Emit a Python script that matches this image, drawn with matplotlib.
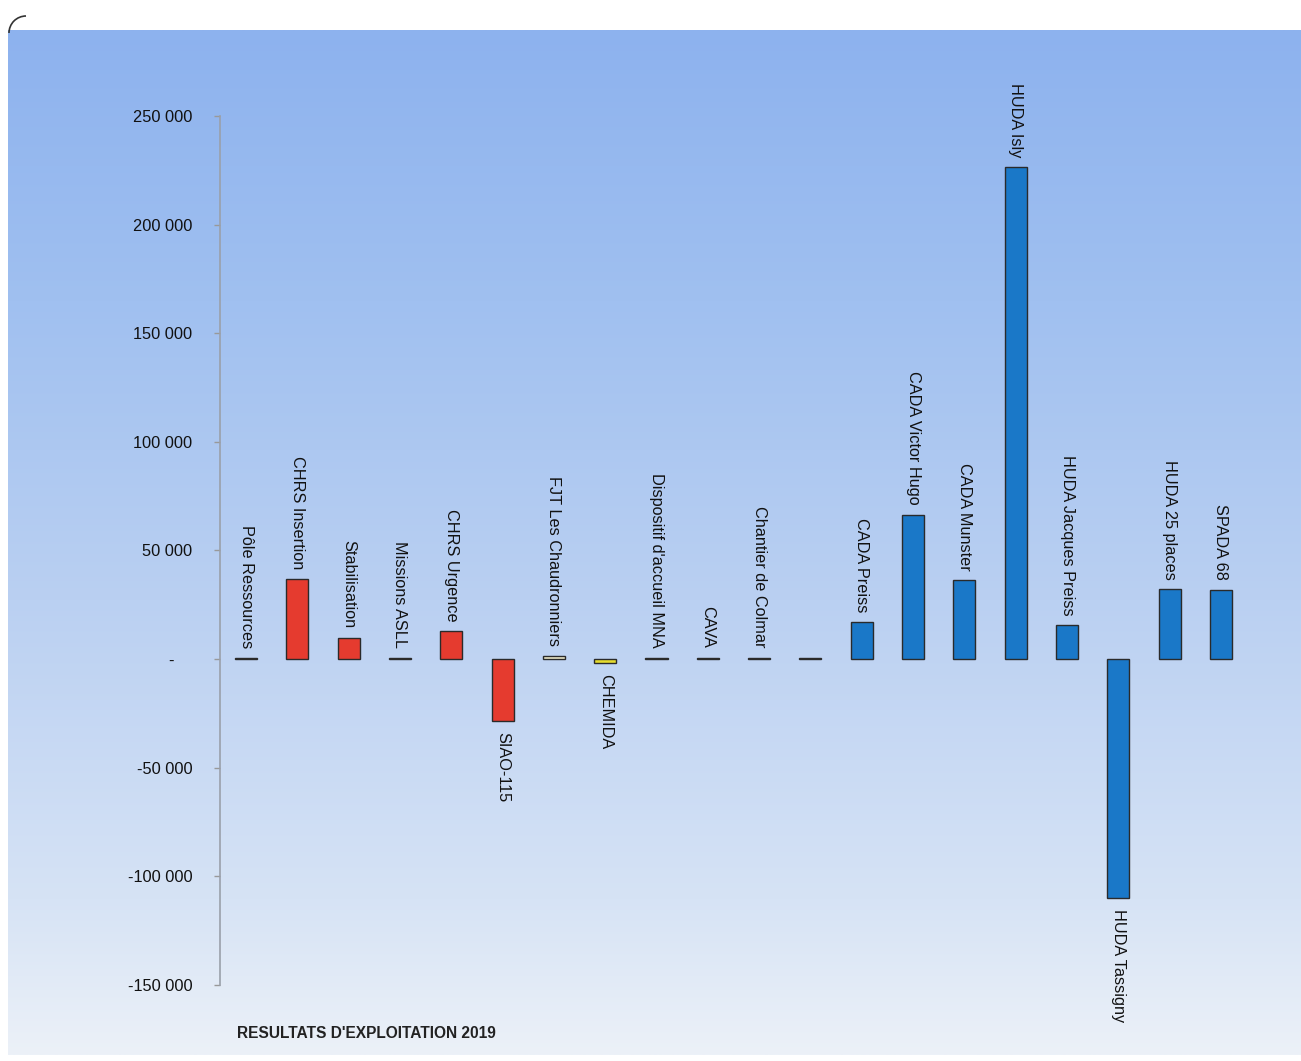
import matplotlib
matplotlib.use("Agg")
import matplotlib.pyplot as plt
import matplotlib.ticker as ticker
from matplotlib.patches import Arc
import numpy as np

plt.rcParams["font.family"] = ["Liberation Sans", "DejaVu Sans"]

# Data
labels = [
    "Pôle Ressources", "CHRS Insertion", "Stabilisation", "Missions ASLL",
    "CHRS Urgence", "SIAO-115", "FJT Les Chaudronniers", "CHEMIDA",
    "Dispositif d'accueil MNA", "CAVA", "Chantier de Colmar", "",
    "CADA Preiss", "CADA Victor Hugo", "CADA Munster", "HUDA Isly",
    "HUDA Jacques Preiss", "HUDA Tassigny", "HUDA 25 places", "SPADA 68",
]
values = [
    700, 36800, 9700, 600,
    12900, -28500, 1600, -1700,
    700, 700, 700, 700,
    17000, 66500, 36300, 226300,
    15600, -110000, 32200, 31800,
]
colors = [
    "#222222", "#e53b2f", "#e53b2f", "#444444",
    "#e53b2f", "#e53b2f", "#efeccb", "#e6dc2e",
    "#222222", "#222222", "#222222", "#222222",
    "#1a78c8", "#1a78c8", "#1a78c8", "#1a78c8",
    "#1a78c8", "#1a78c8", "#1a78c8", "#1a78c8",
]
yticks = [-150000, -100000, -50000, 0, 50000, 100000, 150000, 200000, 250000]

W, H = 1301, 1061
fig = plt.figure(figsize=(W / 100, H / 100), dpi=100)

# scanned page background: white margin, blue-to-white gradient panel
bg = fig.add_axes([0, 0, 1, 1], zorder=0)
bg.set_xlim(0, W)
bg.set_ylim(H, 0)
bg.axis("off")
stops_y = np.array([30, 300, 600, 900, 1055])
stops_c = np.array([
    [141, 178, 238],
    [160, 192, 240],
    [186, 208, 242],
    [214, 227, 245],
    [236, 241, 248],
]) / 255.0
yy = np.linspace(30, 1055, 400)
grad = np.stack([np.interp(yy, stops_y, stops_c[:, k]) for k in range(3)], axis=-1)
grad = np.repeat(grad[:, None, :], 2, axis=1)
bg.imshow(grad, extent=(8, W, 1055, 30), aspect="auto", interpolation="bilinear")
bg.add_patch(Arc((26, 33), 34, 34, theta1=180, theta2=270, color="#333333", lw=1.2))

ax = fig.add_axes([220 / W, 1 - 985 / H, 1 - 220 / W, (985 - 116) / H], zorder=1)
ax.patch.set_visible(False)

x = np.arange(len(values))
ax.bar(x, values, width=0.43, color=colors, edgecolor="#2a2a2a", linewidth=1.0, zorder=3)

for xi, v, lab in zip(x, values, labels):
    if not lab:
        continue
    if v >= 0:
        ax.annotate(lab, (xi, v), xytext=(0, 7), textcoords="offset points",
                    rotation=270, ha="center", va="bottom", fontsize=11.7,
                    color="#111111", annotation_clip=False)
    else:
        ax.annotate(lab, (xi, v), xytext=(0, -8), textcoords="offset points",
                    rotation=270, ha="center", va="top", fontsize=11.7,
                    color="#111111", annotation_clip=False)

ax.set_xlim(-0.507, 20.56)
ax.set_ylim(-150000, 250000)
ax.set_yticks(yticks)


def fmt(v, pos):
    if v == 0:
        return "-    "
    return f"{int(v):,}".replace(",", " ")


ax.yaxis.set_major_formatter(ticker.FuncFormatter(fmt))
ax.tick_params(axis="y", length=4, width=1, color="#999999", pad=16,
               labelsize=11.8, labelcolor="#111111")
ax.set_xticks([])
for s in ["top", "right", "bottom"]:
    ax.spines[s].set_visible(False)
ax.spines["left"].set_color("#9aa0aa")
ax.spines["left"].set_linewidth(1.2)

fig.text(237 / W, 1 - 1033 / H, "RESULTATS D'EXPLOITATION 2019", fontsize=11.2,
         fontweight="bold", color="#222222", va="center", ha="left")

fig.savefig("out.png", dpi=100)
